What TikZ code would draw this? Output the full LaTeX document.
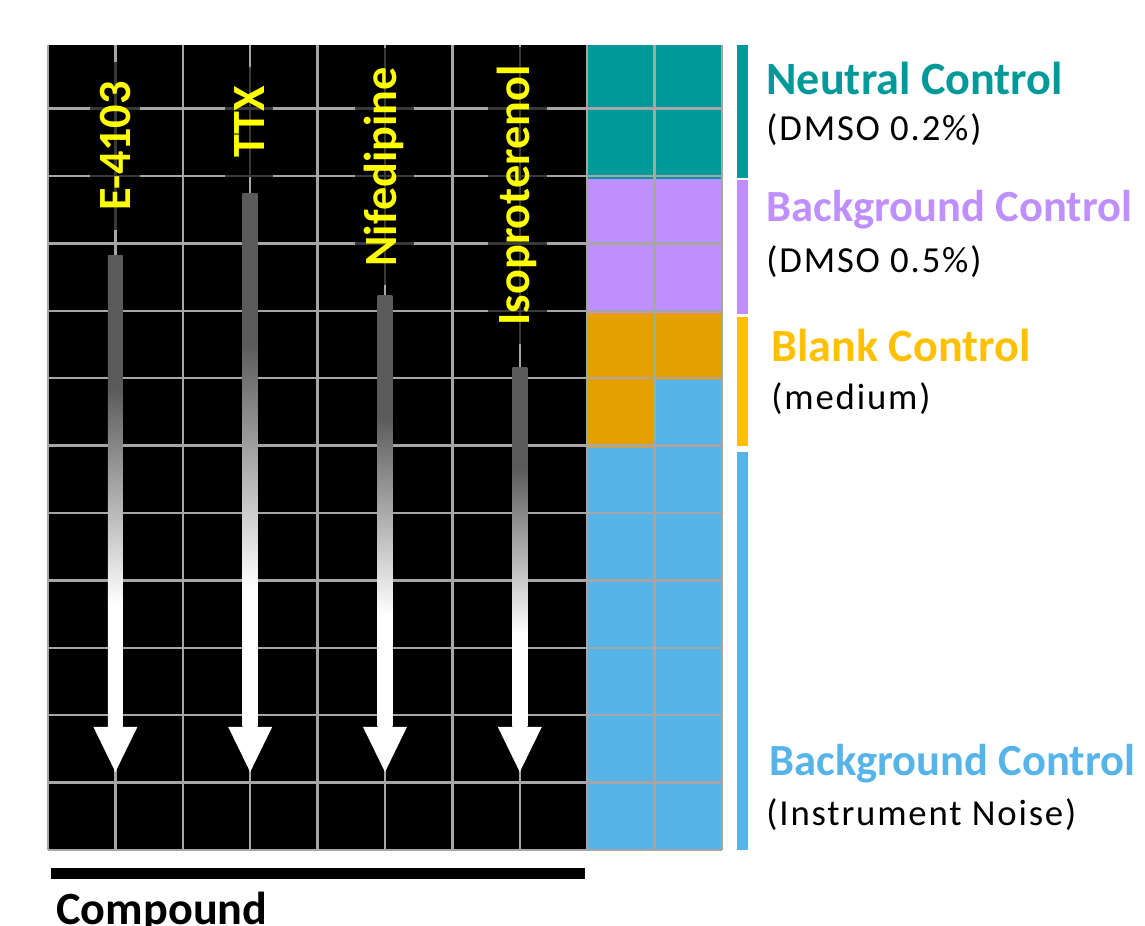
\documentclass[tikz,border=0pt]{standalone}
\usepackage{fontspec}
\setmainfont{Carlito}
\usepackage{xcolor}
\definecolor{neutralteal}{RGB}{0, 153, 153}
\definecolor{bgviolet}{RGB}{191, 143, 255}
\definecolor{blankorange}{RGB}{230, 159, 0}
\definecolor{blankamber}{RGB}{255, 192, 0}
\definecolor{noiseblue}{RGB}{86, 180, 233}
\definecolor{gridgray}{RGB}{166, 166, 166}
\definecolor{shaftgray}{RGB}{90, 90, 90}
\definecolor{drugyellow}{RGB}{255, 255, 0}
\usepackage{tikz}
\pgfdeclareverticalshading{shaftfade}{100bp}{color(0bp)=(white); color(38bp)=(white); color(61bp)=(shaftgray); color(100bp)=(shaftgray)}

\begin{document}
\begin{tikzpicture}[x=1cm, y=0.9953cm,
    drugname/.style={rotate=90, anchor=base, font=\fontsize{19.5}{22}\selectfont\bfseries, text=drugyellow,
        fill=black, fill opacity=0.65, text opacity=1, inner xsep=8pt, inner ysep=4pt},
    ctrltitle/.style={anchor=base west, inner sep=0pt, font=\fontsize{19.5}{22}\selectfont\bfseries},
    ctrlwide/.style={ctrltitle, font=\fontsize{18.8}{22}\selectfont\bfseries},
    ctrlnote/.style={anchor=base west, inner sep=0pt, font=\fontsize{15.5}{18}\selectfont\addfontfeatures{LetterSpace=5}}]
    \useasboundingbox (-0.712,-1.118) rectangle (16.276,12.671);

    % plate: compound wells and control wells
    \fill[black] (0,0) rectangle (8,12);
    \fill[neutralteal] (8,10) rectangle (10,12);
    \fill[bgviolet] (8,8) rectangle (10,10);
    \fill[blankorange] (8,7) rectangle (10,8);
    \fill[blankorange] (8,6) rectangle (9,7);
    \fill[noiseblue] (9,6) rectangle (10,7);
    \fill[noiseblue] (8,0) rectangle (10,6);
    \draw[gridgray, line width=1.05pt] (0,0) grid (10,12);

    % dilution arrows
    \shade[shading=shaftfade] (0.889,8.86) rectangle (1.111,1.834);
    \fill[white] (0.674,1.834) -- (1.326,1.834) -- (1,1.163) -- cycle;
    \shade[shading=shaftfade] (2.889,9.78) rectangle (3.111,1.834);
    \fill[white] (2.674,1.834) -- (3.326,1.834) -- (3,1.163) -- cycle;
    \shade[shading=shaftfade] (4.889,8.27) rectangle (5.111,1.834);
    \fill[white] (4.674,1.834) -- (5.326,1.834) -- (5,1.163) -- cycle;
    \shade[shading=shaftfade] (6.889,7.19) rectangle (7.111,1.834);
    \fill[white] (6.674,1.834) -- (7.326,1.834) -- (7,1.163) -- cycle;

    \node[drugname] (e4103) at (1.217,10.495) {E-4103};
    \node[drugname] (ttx) at (3.205,10.853) {TTX};
    \node[drugname] (nifedipine) at (5.178,10.182) {Nifedipine};
    \node[drugname] (isoproterenol) at (7.151,9.757) {Isoproterenol};

    % control legend
    \fill[neutralteal] (10.22,10.018) rectangle (10.386,12);
    \fill[bgviolet] (10.22,7.99) rectangle (10.386,9.988);
    \fill[blankamber] (10.22,6.023) rectangle (10.386,7.946);
    \fill[noiseblue] (10.22,0) rectangle (10.386,5.933);

    \node[ctrltitle, text=neutralteal] (neutral) at (10.653,11.255) {Neutral Control};
    \node[ctrlnote] (neutralnote) at (10.653,10.57) {(DMSO 0.2\%)};
    \node[ctrlwide, text=bgviolet] (dmso) at (10.653,9.363) {Background Control};
    \node[ctrlnote] (dmsonote) at (10.653,8.606) {(DMSO 0.5\%)};
    \node[ctrltitle, text=blankamber] (blank) at (10.727,7.279) {Blank Control};
    \node[ctrlnote] (blanknote) at (10.727,6.56) {(medium)};
    \node[ctrlwide, text=noiseblue] (noise) at (10.697,1.118) {Background Control};
    \node[ctrlnote] (noisenote) at (10.653,0.37) {(Instrument Noise)};

    % compound block
    \fill[black] (0.052,-0.268) rectangle (7.967,-0.432);
    \node[ctrltitle] (compound) at (0.12,-1.103) {Compound};
\end{tikzpicture}
\end{document}
